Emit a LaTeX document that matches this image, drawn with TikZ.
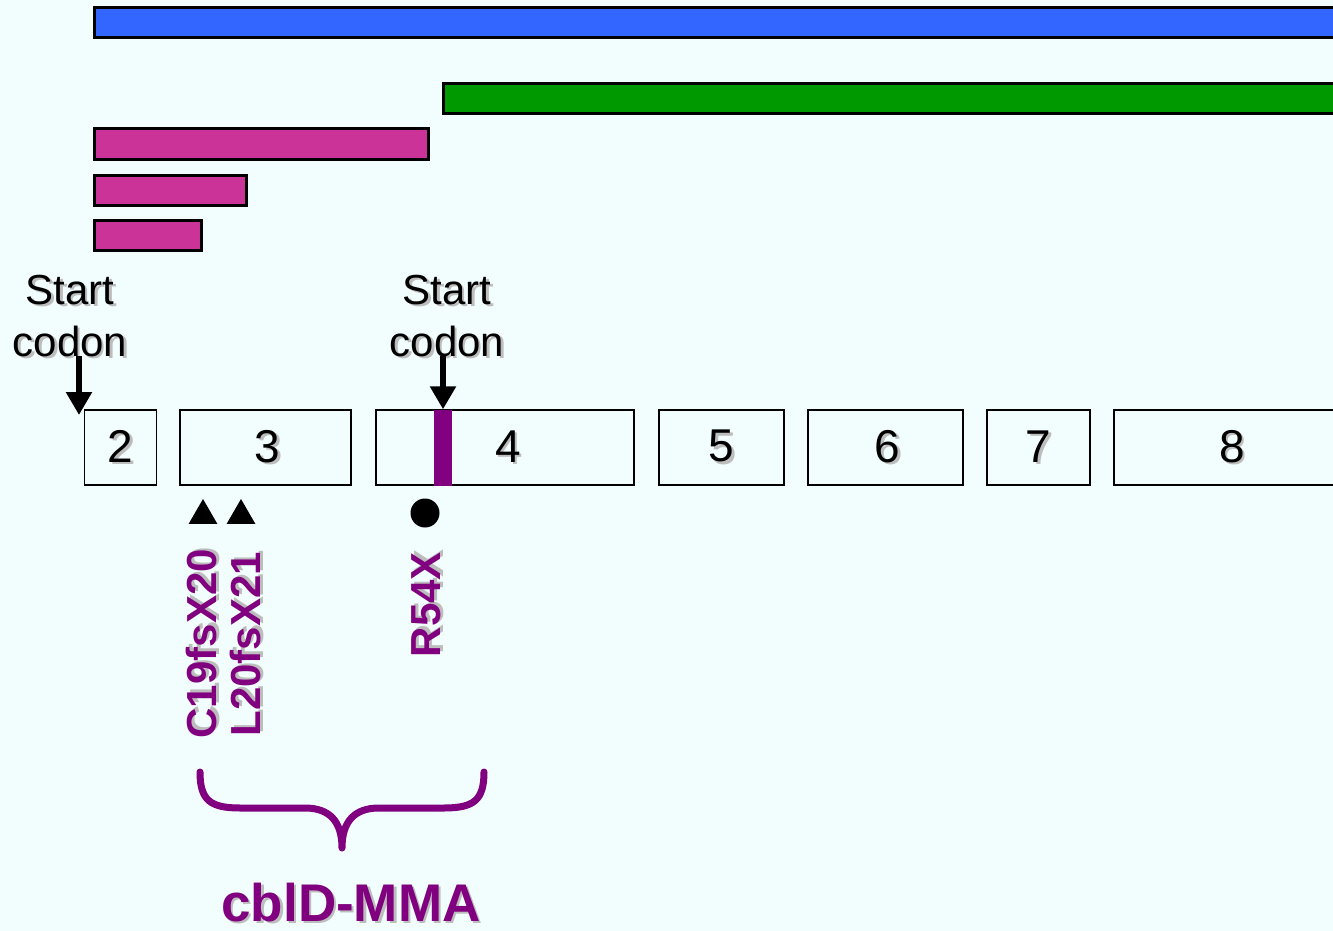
\documentclass[tikz,border=0pt]{standalone}
\usepackage{fontspec}
\setmainfont{Liberation Sans}
\usetikzlibrary{arrows.meta,shapes.geometric}
\definecolor{bg}{HTML}{F2FEFE}
\definecolor{barblue}{HTML}{3366FF}
\definecolor{bargreen}{HTML}{009900}
\definecolor{barpink}{HTML}{CC3399}
\definecolor{mutpurple}{HTML}{800080}
\definecolor{shade}{HTML}{BDBDBD}
% text with a soft grey drop shadow
\newcommand\shtext[2][black]{\makebox[0pt][l]{\hspace{2.5pt}\raisebox{-2.5pt}{\color{shade}#2}}{\color{#1}#2}}
\begin{document}
\begin{tikzpicture}[x=1pt,y=-1pt,
  bar/.style={draw=black,line width=3pt},
  exon/.style={draw=black,line width=1.5pt,minimum height=75pt,inner sep=0pt,
    font=\fontsize{46}{50}\selectfont},
  codonlbl/.style={inner sep=0pt,anchor=base,font=\fontsize{42}{50}\selectfont},
  startarrow/.style={line width=5.5pt,-{Triangle[width=25pt,length=23pt]}},
  mutmark/.style={fill=black,inner sep=0pt},
  mutlbl/.style={rotate=90,anchor=east,inner sep=0pt,
    font=\fontsize{42}{50}\selectfont\bfseries},
  brace/.style={draw=mutpurple,line width=7pt,line cap=round,line join=round}]
\fill[bg] (0,0) rectangle (1333,931);
\clip (0,0) rectangle (1333,931);

% protein products
\filldraw[bar,fill=barblue] (94,8) rectangle (1345,38);
\filldraw[bar,fill=bargreen] (443,84) rectangle (1345,114);
\filldraw[bar,fill=barpink] (94,129) rectangle (428,159);
\filldraw[bar,fill=barpink] (94,175) rectangle (246,205);
\filldraw[bar,fill=barpink] (94,220) rectangle (201,250);

% exons
\node[exon,minimum width=72pt] (e2) at (120.5,447.5) {\shtext{2}};
\node[exon,minimum width=171pt] (e3) at (265.5,447.5) {\hspace{4pt}\shtext{3}};
\node[exon,minimum width=258pt] (e4) at (505,447.5) {\hspace{6pt}\shtext{4}};
\node[exon,minimum width=125pt] (e5) at (721.5,447.5) {\shtext{5}};
\node[exon,minimum width=155pt] (e6) at (885.5,447.5) {\hspace{4pt}\shtext{6}};
\node[exon,minimum width=103pt] (e7) at (1038.5,447.5) {\shtext{7}};
\node[exon,minimum width=236pt] (e8) at (1232,447.5) {\shtext{8}};
\node[fill=mutpurple,minimum width=18pt,minimum height=76pt,inner sep=0pt] (atg) at (443,447.5) {};

% start codons
\node[codonlbl] (st1) at (70,304) {\shtext{Start}};
\node[codonlbl] (cd1) at (70,356) {\shtext{codon}};
\node[codonlbl] (st2) at (447,304) {\shtext{Start}};
\node[codonlbl] (cd2) at (447,356) {\shtext{codon}};
\coordinate (s1) at (79,415);
\draw[startarrow] ([yshift=3pt]s1 |- cd1.south) -- (s1);
\draw[startarrow] ([yshift=3pt]atg.north |- cd2.south) -- (atg.north);

% mutations
\node[mutmark,regular polygon,regular polygon sides=3,minimum size=33pt] (m1) at (203,515.5) {};
\node[mutmark,regular polygon,regular polygon sides=3,minimum size=33pt] (m2) at (241,515.5) {};
\node[mutmark,circle,minimum size=29pt] (m3) at (425,513) {};
\node[mutlbl] (l1) at (203,549) {\shtext[mutpurple]{C19fsX20}};
\node[mutlbl] (l2) at (247,552) {\shtext[mutpurple]{L20fsX21}};
\node[mutlbl] (l3) at (428,552) {\shtext[mutpurple]{R54X}};

% phenotype brace
\draw[brace] (200,772) .. controls (200,800) and (210,808) .. (240,808)
  -- (305,808) .. controls (330,808) and (342,822) .. (342,848)
  .. controls (342,822) and (354,808) .. (379,808)
  -- (444,808) .. controls (474,808) and (484,800) .. (484,772);
\node[inner sep=0pt,anchor=base,font=\fontsize{53}{55}\selectfont\bfseries] (ph) at (351,921)
  {\shtext[mutpurple]{cblD-MMA}};
\end{tikzpicture}
\end{document}
